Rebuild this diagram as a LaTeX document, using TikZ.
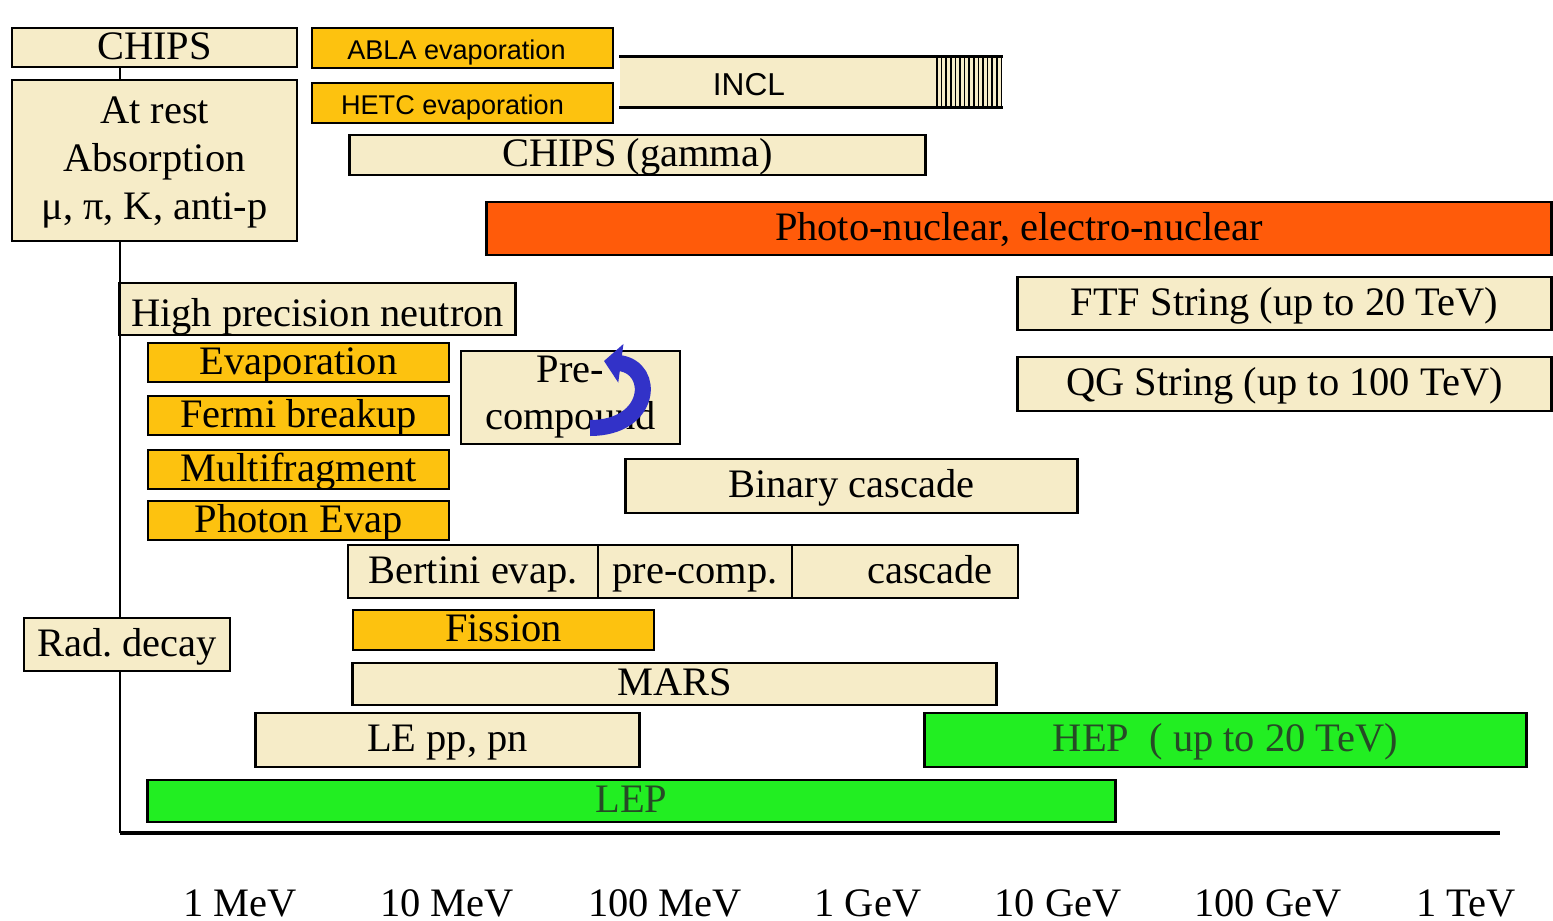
\documentclass[tikz,border=0pt]{standalone}
\usepackage{fontspec}
\setmainfont{Liberation Serif}
\setsansfont{Liberation Sans}
\usetikzlibrary{arrows.meta}

\definecolor{beige}{HTML}{F6ECC8}
\definecolor{gold}{HTML}{FDC20F}
\definecolor{redorange}{HTML}{FF5B0A}
\definecolor{lime}{HTML}{22EE22}
\definecolor{arrowblue}{HTML}{3232C8}
\definecolor{leptext}{HTML}{264A26}

\tikzset{
  model/.style={draw=black, line width=0.8pt, inner sep=0pt, align=center,
    fill=beige, text height=0.68em, text depth=0pt, font=\fontsize{11.5}{13.6}\selectfont},
  tallmodel/.style={model, text depth=, text height=},
  goldmodel/.style={model, fill=gold},
  sansmodel/.style={model, fill=gold, font=\sffamily\fontsize{7.7}{9}\selectfont},
  greenmodel/.style={model, fill=lime, text=leptext},
  energy/.style={font=\fontsize{11.5}{13.6}\selectfont}
}

\begin{document}
\begin{tikzpicture}[x=0.01cm, y=-0.01cm]
        \useasboundingbox[fill=white] (0,0) rectangle (1553,921);

        % Draw the axis
        \coordinate (origin) at (120,833);
        \coordinate (axend) at (1500,833);

        % Top left models
        \node[model, minimum width=2.85cm, minimum height=0.39cm] (chips) at (154.5,47.5) {CHIPS};
        \node[tallmodel, minimum width=2.85cm, minimum height=1.61cm] (rest) at (154.5,160.5)
            {\\[-0.9ex]At rest\\Absorption\\μ, π, K, anti-p};
        \draw[line width=0.6pt] (chips.south -| origin) -- (rest.north -| origin);
        \draw[line width=0.6pt] (rest.south -| origin) -- (origin);
        \draw[line width=1.3pt] (origin) -- (axend);

        \node[sansmodel, minimum width=3.01cm, minimum height=0.40cm] (abla) at (462.5,48) {ABLA evaporation\hspace{0.12cm}};
        \node[sansmodel, minimum width=3.01cm, minimum height=0.40cm] (hetc) at (462.5,103) {HETC evaporation\hspace{0.2cm}};

        % INCL with hatched end
        \node[fill=beige, inner sep=0pt, minimum width=3.82cm, minimum height=0.50cm] (incl) at (811,82) {};
        \draw[line width=0.8pt] (incl.north west) -- (incl.north east);
        \draw[line width=0.8pt] (incl.south west) -- (incl.south east);
        \foreach \x in {937,941.6,...,1002}
            \draw[line width=0.5pt] (\x,57) -- (\x,107);
        \node[font=\sffamily\fontsize{9}{11}\selectfont] (incltext) at (749,85) {INCL};

        \node[model, minimum width=5.75cm, minimum height=0.40cm] (chipsg) at (637.5,155) {CHIPS (gamma)};
        \node[model, fill=redorange, minimum width=10.64cm, minimum height=0.53cm] (photo) at (1019,228.5)
            {Photo-nuclear, electro-nuclear};

        % Low energy models
        \node[model, text height=1.0em, minimum width=3.95cm, minimum height=0.52cm] (hpn) at (317.5,309) {High precision neutron};
        \foreach \y/\name/\txt in {362.5/evap/Evaporation, 415.5/fermi/Fermi breakup,
                469.5/multi/Multifragment, 520.5/photon/Photon Evap}
            \node[goldmodel, minimum width=3.01cm, minimum height=0.39cm] (\name) at (298.5,\y) {\txt};
        \node[tallmodel, minimum width=2.19cm, minimum height=0.93cm] (precomp) at (570.5,397.5) {\\[-1.2ex]Pre-\\compound};

        % Blue arrow over the pre-compound box
        \draw[arrowblue, line width=0.16cm, -{Triangle[length=0.17cm, width=0.38cm]}]
            (590,428) .. controls (652,428) and (656,368) .. (604,361);

        % String models
        \node[model, minimum width=5.33cm, minimum height=0.53cm] (ftf) at (1284.5,303.5) {FTF String (up to 20 TeV)};
        \node[model, minimum width=5.33cm, minimum height=0.54cm] (qgs) at (1284.5,384) {QG String (up to 100 TeV)};

        % Cascade models
        \node[model, minimum width=4.51cm, minimum height=0.54cm] (binary) at (851.5,486) {Binary cascade};
        \node[model, minimum width=2.50cm, minimum height=0.53cm] (bertini) at (473,571.5) {Bertini evap.};
        \node[model, minimum width=1.94cm, minimum height=0.53cm] (bprecomp) at (695,571.5) {pre-comp.};
        \node[model, minimum width=2.26cm, minimum height=0.53cm] (bcascade) at (905,571.5) {\hspace{0.5cm}cascade};

        \node[goldmodel, minimum width=3.01cm, minimum height=0.40cm] (fission) at (503.5,630) {Fission};
        \node[model, minimum width=2.06cm, minimum height=0.53cm] (raddecay) at (127,644.5) {Rad.\ decay};
        \node[model, minimum width=6.43cm, minimum height=0.42cm] (mars) at (674.5,684) {MARS};
        \node[model, minimum width=3.83cm, minimum height=0.54cm] (lepp) at (447.5,740) {LE pp, pn};

        % Parametrised models
        \node[greenmodel, minimum width=6.01cm, minimum height=0.54cm] (hep) at (1225.5,740) {HEP\ \ ( up to 20 TeV)};
        \node[greenmodel, minimum width=9.67cm, minimum height=0.42cm] (lep) at (631.5,801) {LEP};

        % Energy labels below the axis
        \foreach \x/\xtext in {240/1 MeV, 447/10 MeV, 665/100 MeV, 868/1 GeV, 1058/10 GeV, 1268/100 GeV, 1466/1 TeV}
            \node[energy] (e\x) at (\x,903) {\xtext};
\end{tikzpicture}
\end{document}
